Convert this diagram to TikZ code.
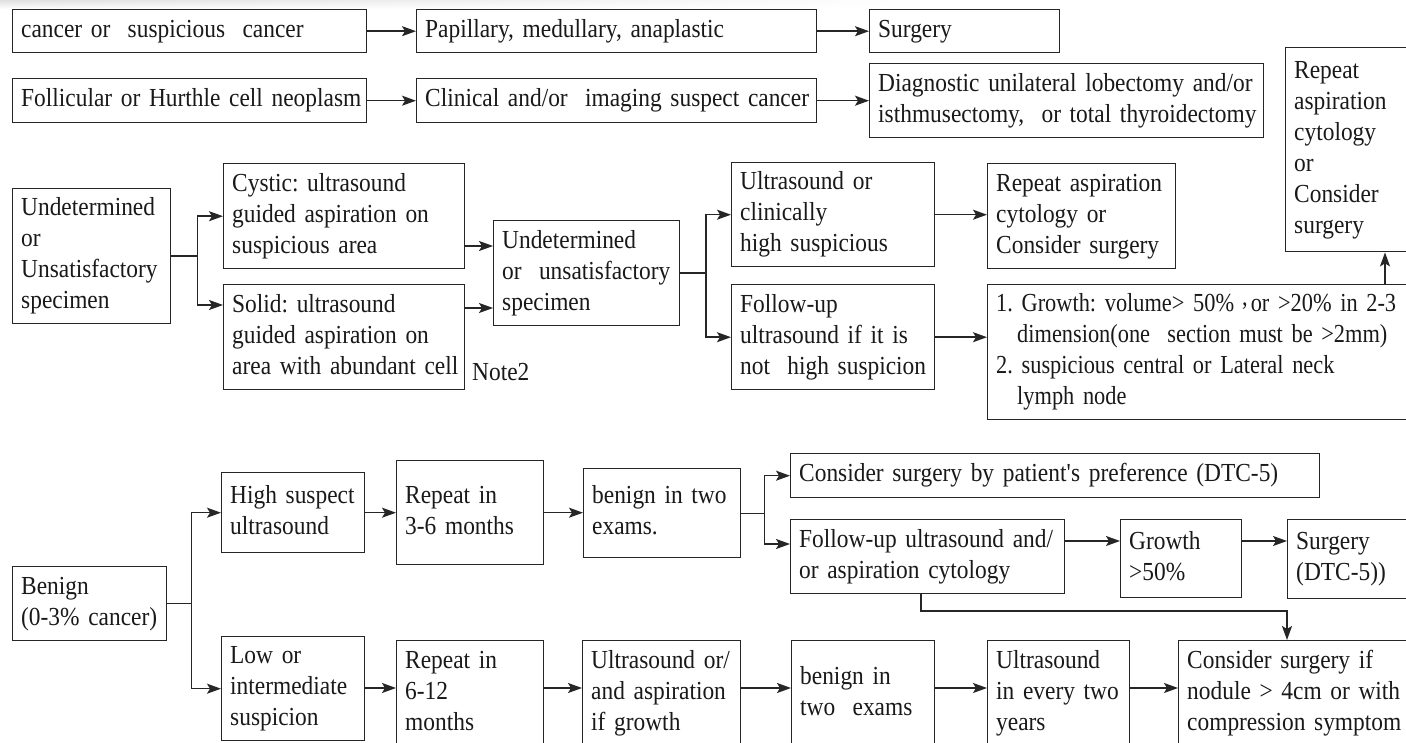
\documentclass[tikz,border=0pt]{standalone}
\usepackage{fontspec}
\setmainfont{Liberation Serif}[FakeStretch=0.9, WordSpace=0.9]
\newfontfamily\gfont{Liberation Serif}[FakeStretch=0.86, WordSpace=0.9]
\usetikzlibrary{arrows.meta,calc,fadings}
\tikzfading[name=faderight, left color=transparent!0, right color=transparent!100]
\newcommand\lns[1]{\begin{tabular}{@{}l@{}}#1\end{tabular}}
\frenchspacing
\begin{document}
\frenchspacing
\begin{tikzpicture}[x=1pt,y=-1pt, font=\fontsize{26pt}{31pt}\selectfont\frenchspacing,
 box/.style={draw=black!85, line width=1.4pt, anchor=north west, inner xsep=8.5pt, inner ysep=0pt, align=left, text=black!90},
 arr/.style={draw=black!85, line width=1.4pt, -{Stealth[length=14pt,width=10pt,inset=3pt]}}]
\useasboundingbox (0,0) rectangle (1406,743);
\clip (0,0) rectangle (1406,743);
\fill[white] (0,0) rectangle (1406,743);
\shade[top color=black!12, bottom color=white, path fading=faderight] (0,0) rectangle (920,9);

% top rows
\node[box, text width=337pt, minimum height=43pt] (a1) at (12,9) {\lns{cancer or\ \ suspicious\ \ cancer}};
\node[box, text width=383pt, minimum height=43pt] (a2) at (416,9) {\lns{Papillary, medullary, anaplastic}};
\node[box, text width=173pt, minimum height=43pt] (a3) at (869,9) {\lns{Surgery}};
\node[box, text width=337pt, minimum height=44pt] (b1) at (12,78) {\lns{Follicular or Hurthle cell neoplasm}};
\node[box, text width=383pt, minimum height=44pt] (b2) at (416,78) {\lns{Clinical and/or\ \ imaging suspect cancer}};
\node[box, text width=377pt, minimum height=74pt] (b3) at (869,63) {\lns{Diagnostic unilateral lobectomy and/or\\isthmusectomy,\ \ or total thyroidectomy}};
\node[box, text width=183pt, minimum height=204pt] (r) at (1285,47) {\lns{Repeat\\aspiration\\cytology\\or\\Consider\\surgery}};

% undetermined section
\node[box, text width=141pt, minimum height=135pt] (u1) at (12,188) {\lns{Undetermined\\or\\Unsatisfactory\\specimen}};
\node[box, text width=224pt, minimum height=105pt] (c1) at (223,163) {\lns{Cystic: ultrasound\\guided aspiration on\\suspicious area}};
\node[box, text width=224pt, minimum height=105pt] (s1) at (223,284) {\lns{Solid: ultrasound\\guided aspiration on\\area with abundant cell}};
\node[anchor=base west, inner sep=0pt, text=black!90] (n2) at (472,381) {Note2};
\node[box, text width=169pt, minimum height=105pt] (u2) at (493,220) {\lns{Undetermined\\or\ \ unsatisfactory\\specimen}};
\node[box, text width=186pt, minimum height=104pt] (h1) at (731,162) {\lns{Ultrasound or\\clinically\\high suspicious}};
\node[box, text width=186pt, minimum height=105pt] (f1) at (731,284) {\lns{Follow-up\\ultrasound if it is\\not\ \ high suspicion}};
\node[box, text width=171pt, minimum height=105pt] (ra) at (987,163) {\lns{Repeat aspiration\\cytology or\\Consider surgery}};
\node[box, text width=483pt, minimum height=135pt, font=\fontsize{26pt}{31pt}\gfont\frenchspacing] (g) at (987,284) {\lns{1. Growth: volume> 50\%\hspace{8pt}\raisebox{6pt}{,}\hspace{3pt}or >20\% in 2-3\\\hspace{21pt}dimension(one\ \ section must be >2mm)\\2. suspicious central or Lateral neck\\\hspace{21pt}lymph node}};

% benign section
\node[box, text width=137pt, minimum height=74pt] (bn) at (12,566) {\lns{Benign\\(0-3\% cancer)}};
\node[box, text width=126pt, minimum height=80pt] (hs) at (221,472) {\lns{High suspect\\ultrasound}};
\node[box, text width=126pt, minimum height=104pt] (li) at (221,636) {\lns{Low or\\intermediate\\suspicion}};
\node[box, text width=130pt, minimum height=104pt] (r36) at (396,460) {\lns{Repeat in\\3-6 months}};
\node[box, text width=130pt, minimum height=106pt] (r612) at (396,640) {\lns{Repeat in\\6-12\\months}};
\node[box, text width=140pt, minimum height=89pt] (be) at (583,468) {\lns{benign in two\\exams.}};
\node[box, text width=141pt, minimum height=106pt] (ua) at (582,640) {\lns{Ultrasound or/\\and aspiration\\if growth}};
\node[box, text width=512pt, minimum height=44pt] (cs) at (790,453) {\lns{Consider surgery by patient\textquotesingle s preference (DTC-5)}};
\node[box, text width=257pt, minimum height=74pt] (fu) at (790,519) {\lns{Follow-up ultrasound and/\\or aspiration cytology}};
\node[box, text width=104pt, minimum height=78pt] (gr) at (1120,519) {\lns{Growth\\>50\%}};
\node[box, text width=183pt, minimum height=79pt] (sg) at (1287,519) {\lns{Surgery\\(DTC-5))}};
\node[box, text width=126pt, minimum height=106pt] (b2x) at (791,640) {\lns{benign in\\two\ \ exams}};
\node[box, text width=125pt, minimum height=106pt] (e2y) at (987,640) {\lns{Ultrasound\\in every two\\years}};
\node[box, text width=283pt, minimum height=106pt] (cn) at (1178,640) {\lns{Consider surgery if\\nodule > 4cm or with\\compression symptom}};

% connectors: top rows
\draw[arr] (a1.east) -- (a2.west);
\draw[arr] (a2.east) -- (a3.west);
\draw[arr] (b1.east) -- (b2.west);
\draw[arr] (b2.east) -- (b2.east -| b3.west);

% undetermined section
\coordinate (k1) at (0,246);
\coordinate (k2) at (0,308);
\draw[arr] (u1.east) -- ++(26,0) |- (c1.west);
\draw[arr] (u1.east) -- ++(26,0) |- ([yshift=-21pt]s1.north west);
\draw[arr] (c1.east |- k1) -- (u2.west |- k1);
\draw[arr] (s1.east |- k2) -- (u2.west |- k2);
\draw[arr] (u2.east) -- ++(25.5,0) |- (h1.west);
\draw[arr] (u2.east) -- ++(25.5,0) |- (f1.west);
\draw[arr] (h1.east) -- (h1.east -| ra.west);
\draw[arr] (f1.east) -- (f1.east -| g.west);
\coordinate (xr) at (1385,0);
\draw[arr] (g.north -| xr) -- (r.south -| xr);

% benign section
\draw[arr] (bn.east) -- ++(24,0) |- (hs.west);
\draw[arr] (bn.east) -- ++(24,0) |- (li.west);
\draw[arr] (hs.east) -- (hs.east -| r36.west);
\draw[arr] (r36.east) -- (r36.east -| be.west);
\coordinate (k3) at (0,544);
\coordinate (k4) at (0,541);
\draw[arr] (be.east) -- ++(23,0) |- (cs.west);
\draw[arr] (be.east) -- ++(23,0) |- (fu.west |- k3);
\draw[arr] (fu.east |- k4) -- (gr.west |- k4);
\draw[arr] (gr.east |- k4) -- (sg.west |- k4);
\coordinate (t1) at (921,611);
\coordinate (t2) at (1287,611);
\draw[arr] (fu.south -| t1) -- (t1) -- (t2) -- (cn.north -| t2);
\coordinate (k5) at (0,688);
\draw[arr] (li.east |- k5) -- (r612.west |- k5);
\draw[arr] (r612.east |- k5) -- (ua.west |- k5);
\draw[arr] (ua.east |- k5) -- (b2x.west |- k5);
\draw[arr] (b2x.east |- k5) -- (e2y.west |- k5);
\draw[arr] (e2y.east |- k5) -- (cn.west |- k5);
\end{tikzpicture}
\end{document}
